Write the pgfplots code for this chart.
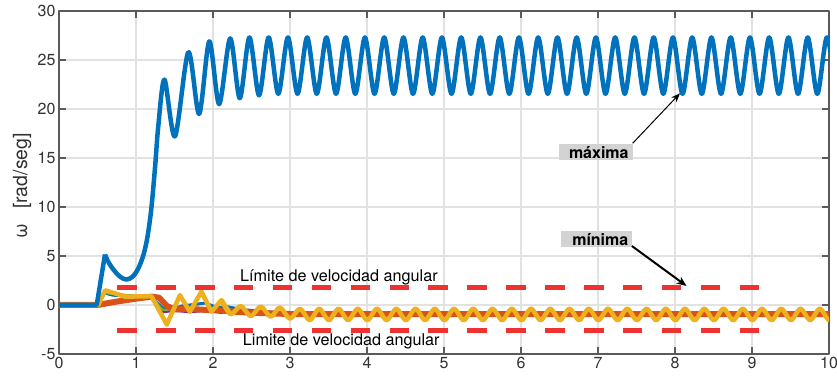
\documentclass[border=0pt]{standalone}
\usepackage{pgfplots}
\pgfplotsset{compat=1.18}
\usepackage{fontspec}
\setmainfont{TeX Gyre Heros}
\usetikzlibrary{arrows.meta}
\definecolor{mblue}{rgb}{0,0.447,0.741}
\definecolor{morange}{rgb}{0.850,0.325,0.098}
\definecolor{myellow}{rgb}{0.929,0.694,0.125}
\definecolor{mpurple}{rgb}{0.494,0.184,0.556}
\definecolor{mgreen}{rgb}{0.466,0.674,0.188}
\definecolor{mred}{RGB}{238,50,50}
\definecolor{gridgray}{RGB}{226,226,226}
\definecolor{axgray}{RGB}{90,90,90}
\definecolor{labgray}{RGB}{50,50,50}
\definecolor{boxgray}{RGB}{211,211,211}
\begin{document}
\begin{tikzpicture}
\begin{axis}[
  scale only axis, width=770pt, height=343pt,
  xmin=0, xmax=10, ymin=-5, ymax=30,
  xtick={0,1,...,10}, ytick={-5,0,5,10,15,20,25,30},
  grid=major, major grid style={color=gridgray, line width=1.1pt},
  axis line style={color=axgray, line width=1.3pt},
  tick style={color=axgray, line width=1.3pt}, major tick length=7pt,
  tick align=inside,
  /pgf/number format/assume math mode=true,
  ticklabel style={font=\fontsize{16}{19}\selectfont, text=labgray},
  ylabel={ω\hspace{15pt}[rad/seg]},
  ylabel style={font=\fontsize{19.5}{22}\selectfont, text=labgray, at={(axis description cs:-0.048,0.49)}, anchor=center},
  line join=round,
]
% lower signals
\addplot[color=mblue, line width=3pt] coordinates {(0,0) (0.5,0) (0.58,1.25) (0.7,1.0) (1.0,0.9) (1.2,0.75) (1.35,-0.35) (1.45,-0.45) (1.6,-0.1) (1.75,0.05) (1.9,0.2) (2.05,-0.25) (2.2,-0.2) (2.4,-0.5) (2.6,-0.6) (2.9,-0.85) (3.2,-0.92) (10,-0.93)};
\addplot[color=mpurple, line width=2pt] coordinates {(0,0) (0.5,0) (0.6,1.4) (0.9,0.95) (1.2,0.85) (1.35,-0.75) (1.5,-0.6) (1.7,-0.75) (1.9,-0.6) (2.1,-0.8) (2.3,-0.7) (2.6,-0.85) (3,-0.93) (10,-0.93)};
\addplot[color=mgreen, line width=2pt] coordinates {(0,0) (0.5,0) (0.6,1.2) (1.2,0.8) (1.35,-0.5) (1.8,-0.3) (2.4,-0.6) (3,-0.9) (10,-0.93)};
\addplot[color=morange, line width=6pt] coordinates {(0,0) (0.5,0) (0.75,0.35) (1.0,0.65) (1.2,0.85) (1.3,0.75) (1.4,-0.1) (1.5,-0.45) (1.7,-0.4) (1.9,-0.5) (2.1,-0.55) (2.3,-0.7) (2.6,-0.82) (3.0,-0.92) (10,-0.93)};
\addplot[color=myellow, line width=4.5pt] coordinates {(0,0) (0.51,0) (0.60,1.5) (0.86,0.85) (1.2,0.9) (1.40,-2.0) (1.57,1.0) (1.70,-0.68) (1.85,1.36) (1.98,-0.68) (2.11,0.5) (2.23,-0.95)};
\addplot[color=myellow, line width=4.5pt, smooth] coordinates {(2.11,0.5) (2.23,-0.95) (2.36,-0.1) (2.49,-1.15) (2.62,-0.15) (2.75,-1.2) (2.87,-0.25) (3.0,-1.4)
 (3.13,-0.38) (3.255,-1.55) (3.38,-0.38) (3.505,-1.55) (3.63,-0.38) (3.755,-1.55) (3.88,-0.38) (4.005,-1.55)
 (4.13,-0.38) (4.255,-1.55) (4.38,-0.38) (4.505,-1.55) (4.63,-0.38) (4.755,-1.55) (4.88,-0.38) (5.005,-1.55)
 (5.13,-0.38) (5.255,-1.55) (5.38,-0.38) (5.505,-1.55) (5.63,-0.38) (5.755,-1.55) (5.88,-0.38) (6.005,-1.55)
 (6.13,-0.38) (6.255,-1.55) (6.38,-0.38) (6.505,-1.55) (6.63,-0.38) (6.755,-1.55) (6.88,-0.38) (7.005,-1.55)
 (7.13,-0.38) (7.255,-1.55) (7.38,-0.38) (7.505,-1.55) (7.63,-0.38) (7.755,-1.55) (7.88,-0.38) (8.005,-1.55)
 (8.13,-0.38) (8.255,-1.55) (8.38,-0.38) (8.505,-1.55) (8.63,-0.38) (8.755,-1.55) (8.88,-0.38) (9.005,-1.55)
 (9.13,-0.38) (9.255,-1.55) (9.38,-0.38) (9.505,-1.55) (9.63,-0.38) (9.755,-1.55) (9.88,-0.38) (10.005,-1.55) (10.13,-0.38)};
% maximum signal
\addplot[color=mblue, line width=4.5pt] coordinates {(0,0) (0.49,0) (0.597,5.15)};
\addplot[color=mblue, line width=4.5pt, smooth] coordinates {(0.597,5.15) (0.63,4.55) (0.68,3.9) (0.74,3.3) (0.80,2.85) (0.86,2.62) (0.92,2.7) (0.98,3.1) (1.04,3.9) (1.10,5.2) (1.15,7.0) (1.20,9.9) (1.25,14.3) (1.29,18.3)
 (1.37,23.0) (1.506,17.2) (1.68,25.8) (1.82,19.5) (1.952,26.9) (2.08,20.5)
 (2.223,27.2) (2.348,21.1) (2.473,27.3) (2.598,21.4) (2.723,27.3) (2.848,21.55) (2.973,27.3) (3.098,21.55)
 (3.223,27.3) (3.348,21.55) (3.473,27.3) (3.598,21.55) (3.723,27.3) (3.848,21.55) (3.973,27.3) (4.098,21.55)
 (4.223,27.3) (4.348,21.55) (4.473,27.3) (4.598,21.55) (4.723,27.3) (4.848,21.55) (4.973,27.3) (5.098,21.55)
 (5.223,27.3) (5.348,21.55) (5.473,27.3) (5.598,21.55) (5.723,27.3) (5.848,21.55) (5.973,27.3) (6.098,21.55)
 (6.223,27.3) (6.348,21.55) (6.473,27.3) (6.598,21.55) (6.723,27.3) (6.848,21.55) (6.973,27.3) (7.098,21.55)
 (7.223,27.3) (7.348,21.55) (7.473,27.3) (7.598,21.55) (7.723,27.3) (7.848,21.55) (7.973,27.3) (8.098,21.55)
 (8.223,27.3) (8.348,21.55) (8.473,27.3) (8.598,21.55) (8.723,27.3) (8.848,21.55) (8.973,27.3) (9.098,21.55)
 (9.223,27.3) (9.348,21.55) (9.473,27.3) (9.598,21.55) (9.723,27.3) (9.848,21.55) (9.973,27.3) (10.098,21.55)};
% limits
\addplot[color=mred, line width=5pt, dash pattern=on 19.5pt off 19.4pt, line cap=butt] coordinates {(0.757,1.8) (9.09,1.8)};
\addplot[color=mred, line width=5pt, dash pattern=on 19.5pt off 19.4pt, line cap=butt] coordinates {(0.757,-2.57) (9.09,-2.57)};
% texts
\node[anchor=base west, inner sep=0, font=\fontsize{16.2}{18}\selectfont] at (axis cs:2.35,2.40) {Límite de velocidad angular};
\node[anchor=base west, inner sep=0, font=\fontsize{16.2}{18}\selectfont] at (axis cs:2.386,-4.18) {Limite de velocidad angular};
\fill[boxgray] (axis cs:6.494,14.80) rectangle (axis cs:7.455,16.43);
\node[anchor=base east, inner sep=0, font=\bfseries\fontsize{16}{18}\selectfont] at (axis cs:7.40,14.92) {máxima};
\draw[-{Stealth[length=9pt,width=7pt]}, line width=1pt] (axis cs:7.45,16.5) -- (axis cs:8.065,21.6);
\fill[boxgray] (axis cs:6.519,5.95) rectangle (axis cs:7.442,7.58);
\node[anchor=base east, inner sep=0, font=\bfseries\fontsize{16}{18}\selectfont] at (axis cs:7.396,6.05) {mínima};
\draw[-{Stealth[length=10pt,width=8pt]}, line width=2pt] (axis cs:7.44,6.02) -- (axis cs:8.15,1.94);
\end{axis}
\pgfresetboundingbox
\path[use as bounding box] ([xshift=-59pt,yshift=-25pt]current axis.south west) rectangle ([xshift=8pt,yshift=11pt]current axis.north east);
\end{tikzpicture}
\end{document}
